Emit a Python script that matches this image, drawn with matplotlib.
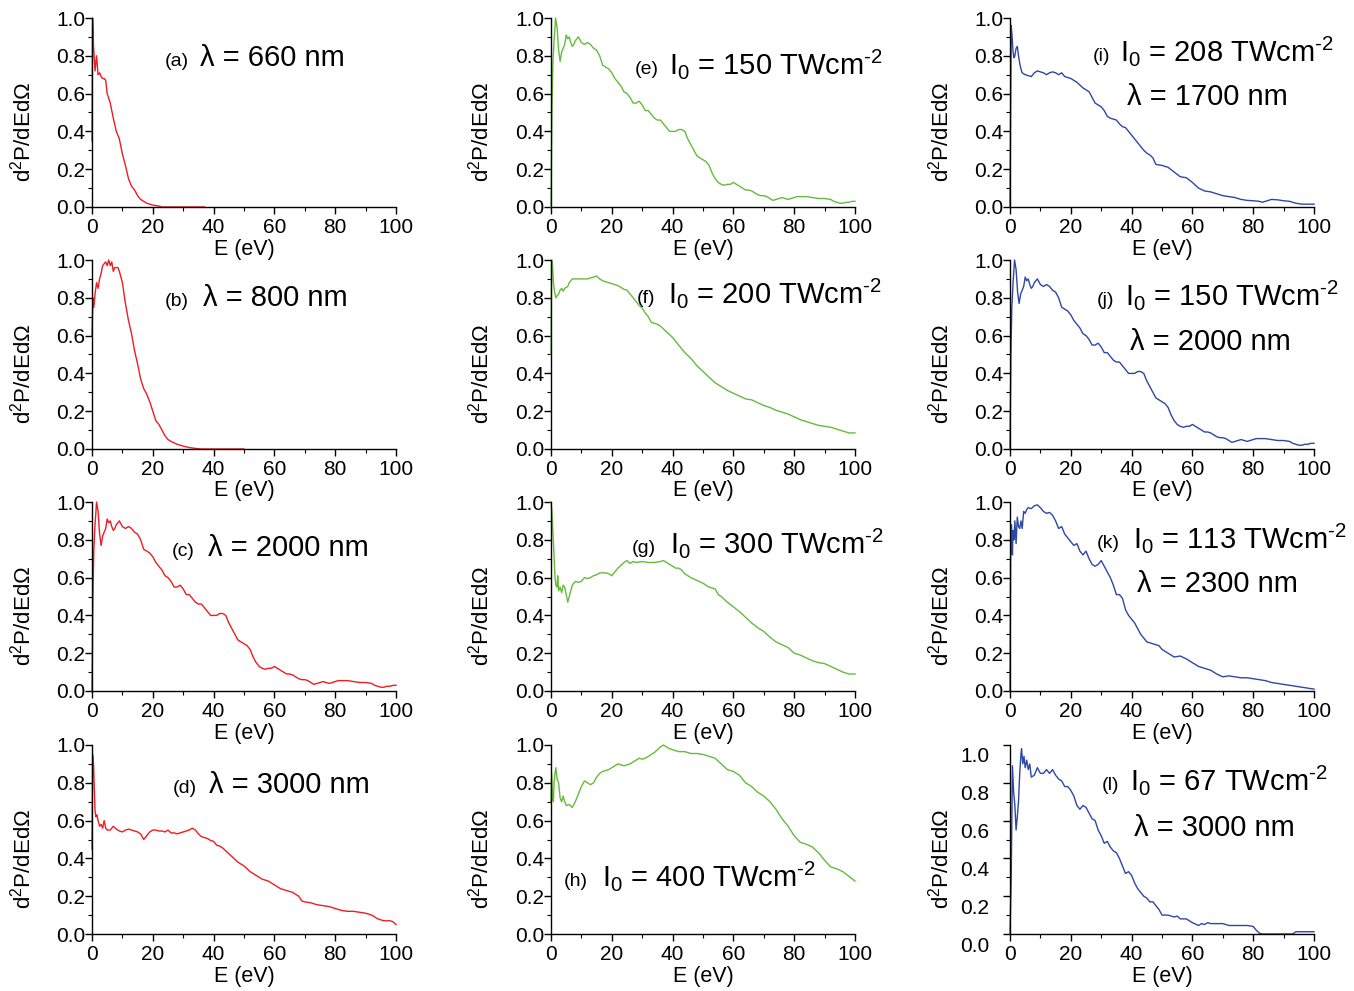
import numpy as np
import matplotlib
matplotlib.use('Agg')
import matplotlib.pyplot as plt
from matplotlib.ticker import FormatStrFormatter
from matplotlib.transforms import ScaledTranslation

plt.rcParams['font.family'] = ['Liberation Sans', 'DejaVu Sans']
plt.rcParams['mathtext.fontset'] = 'custom'
plt.rcParams['mathtext.rm'] = 'Liberation Sans'
plt.rcParams['mathtext.it'] = 'Liberation Sans:italic'
plt.rcParams['mathtext.default'] = 'regular'

# ---- data (E in eV, normalised d2P/dEdOmega) ----
energy_a = [0, 0.2, 0.5, 1, 1.5, 2, 2.5, 3, 3.5, 4, 4.5, 5, 6, 7, 8, 9, 10, 11, 12,
            13, 14, 15, 16, 17, 18, 19, 20, 22, 23, 37]
signal_a = [0.35, 1.0, 0.85, 0.72, 0.8, 0.7, 0.71, 0.69, 0.68, 0.68, 0.67, 0.6, 0.55,
            0.47, 0.4, 0.36, 0.28, 0.22, 0.15, 0.11, 0.09, 0.06, 0.04, 0.03, 0.02,
            0.015, 0.01, 0.005, 0.0, 0.0]

energy_b = [0, 0.3, 0.6, 1, 1.5, 2, 2.5, 3, 3.5, 4, 4.5, 5, 5.5, 6, 6.5, 7, 7.5, 8,
            8.5, 9, 10, 11, 12, 13, 14, 15, 16, 17, 18, 19, 20, 21, 22, 23, 24, 25,
            26, 28, 30, 32, 34, 36, 50]
signal_b = [0.6, 0.8, 0.75, 0.82, 0.88, 0.85, 0.9, 0.93, 0.97, 0.98, 0.99, 0.97, 1.0,
            0.97, 0.99, 0.94, 0.96, 0.96, 0.96, 0.94, 0.88, 0.77, 0.68, 0.61, 0.52,
            0.45, 0.37, 0.32, 0.29, 0.25, 0.2, 0.15, 0.13, 0.1, 0.07, 0.05, 0.04,
            0.025, 0.015, 0.008, 0.003, 0.0, 0.0]

# 2000 nm, 150 TWcm-2 (same spectrum in panels c, e and j)
energy_2000 = [0, 0.3, 0.6, 1, 1.5, 2, 2.5, 3, 3.5, 4, 4.5, 5, 5.5, 6, 6.5, 7, 7.5, 8,
               9, 10, 11, 12, 13, 14, 15, 16, 17, 18, 19, 20, 21, 22, 23, 24, 25, 26,
               27, 28, 29, 30, 31, 32, 33, 34, 35, 36, 37, 38, 39, 40, 41, 42, 43, 44,
               45, 46, 47, 48, 49, 50, 51, 52, 53, 54, 55, 56, 57, 58, 59, 60, 61, 62,
               63, 64, 65, 66, 67, 68, 69, 70, 71, 72, 73, 74, 75, 76, 77, 78, 79, 80,
               81, 82, 84, 86, 88, 90, 92, 93, 94, 95, 96, 97, 98, 99, 100]
signal_2000 = [0.0, 0.5, 0.75, 0.88, 1.0, 0.95, 0.83, 0.77, 0.82, 0.84, 0.86, 0.91,
               0.89, 0.9, 0.87, 0.85, 0.86, 0.88, 0.9, 0.87, 0.86, 0.87, 0.86, 0.84,
               0.83, 0.8, 0.75, 0.74, 0.73, 0.71, 0.68, 0.66, 0.64, 0.61, 0.6, 0.58,
               0.55, 0.55, 0.56, 0.54, 0.51, 0.51, 0.49, 0.47, 0.46, 0.46, 0.44, 0.42,
               0.4, 0.4, 0.4, 0.41, 0.41, 0.4, 0.36, 0.33, 0.3, 0.27, 0.26, 0.25, 0.24,
               0.22, 0.18, 0.15, 0.13, 0.12, 0.115, 0.12, 0.12, 0.13, 0.12, 0.11, 0.1,
               0.09, 0.09, 0.085, 0.075, 0.065, 0.06, 0.06, 0.055, 0.045, 0.035, 0.04,
               0.045, 0.05, 0.045, 0.04, 0.045, 0.05, 0.055, 0.055, 0.055, 0.05,
               0.045, 0.045, 0.04, 0.03, 0.025, 0.02, 0.02, 0.025, 0.025, 0.03, 0.03]

energy_d = [0, 0.2, 0.5, 0.8, 1, 1.3, 1.6, 2, 2.5, 3, 3.5, 4, 4.5, 5, 6, 7, 8, 9, 10,
            11, 12, 13, 14, 15, 16, 17, 18, 19, 20, 21, 22, 23, 24, 25, 26, 27, 28,
            29, 30, 31, 32, 33, 34, 35, 36, 37, 38, 39, 40, 41, 42, 43, 44, 45, 46,
            47, 48, 50, 52, 54, 56, 58, 60, 62, 64, 66, 68, 69, 70, 72, 74, 76, 78,
            80, 82, 84, 86, 88, 90, 92, 94, 96, 98, 99, 100]
signal_d = [0.45, 0.95, 0.9, 0.75, 0.65, 0.62, 0.63, 0.6, 0.57, 0.58, 0.56, 0.6, 0.56,
            0.55, 0.55, 0.57, 0.555, 0.545, 0.54, 0.55, 0.555, 0.55, 0.545, 0.54,
            0.53, 0.5, 0.52, 0.54, 0.55, 0.55, 0.545, 0.545, 0.54, 0.55, 0.535,
            0.535, 0.53, 0.535, 0.54, 0.545, 0.55, 0.56, 0.55, 0.53, 0.515, 0.51,
            0.505, 0.495, 0.49, 0.47, 0.465, 0.455, 0.44, 0.425, 0.41, 0.395, 0.38,
            0.36, 0.33, 0.31, 0.29, 0.28, 0.26, 0.24, 0.23, 0.22, 0.2, 0.175, 0.17,
            0.165, 0.155, 0.15, 0.145, 0.135, 0.125, 0.12, 0.12, 0.115, 0.11, 0.1,
            0.08, 0.07, 0.07, 0.065, 0.05]

energy_f = [0, 0.2, 0.5, 0.8, 1.2, 1.6, 2, 2.5, 3, 3.5, 4, 4.5, 5, 5.5, 6, 7, 8, 9, 10,
            11, 12, 13, 14, 15, 16, 17, 18, 19, 20, 21, 22, 23, 24, 25, 26, 27, 28,
            29, 30, 31, 32, 33, 34, 35, 36, 38, 40, 42, 44, 46, 48, 50, 52, 54, 56,
            58, 60, 62, 64, 66, 68, 70, 72, 74, 76, 78, 80, 82, 84, 86, 88, 90, 92,
            94, 96, 98, 100]
signal_f = [0.5, 1.0, 0.97, 0.88, 0.83, 0.8, 0.81, 0.82, 0.84, 0.85, 0.835, 0.85,
            0.855, 0.86, 0.88, 0.9, 0.9, 0.9, 0.9, 0.9, 0.9, 0.905, 0.91, 0.915, 0.9,
            0.89, 0.885, 0.88, 0.875, 0.87, 0.865, 0.855, 0.845, 0.84, 0.82, 0.8,
            0.78, 0.76, 0.745, 0.72, 0.7, 0.67, 0.665, 0.66, 0.65, 0.62, 0.59, 0.55,
            0.51, 0.48, 0.44, 0.41, 0.38, 0.35, 0.33, 0.31, 0.295, 0.28, 0.265, 0.26,
            0.245, 0.23, 0.22, 0.205, 0.195, 0.185, 0.17, 0.155, 0.145, 0.135, 0.125,
            0.12, 0.115, 0.105, 0.095, 0.085, 0.085]

energy_g = [0, 0.3, 0.6, 1, 1.3, 1.6, 2, 2.2, 2.5, 3, 3.5, 4, 4.5, 5, 5.5, 6, 7, 8, 9,
            10, 11, 12, 13, 14, 15, 16, 17, 18, 19, 20, 21, 22, 23, 24, 25, 26, 27,
            28, 30, 32, 34, 36, 37, 38, 39, 40, 41, 42, 43, 44, 46, 48, 50, 52, 54,
            55, 56, 58, 60, 62, 64, 66, 68, 70, 72, 74, 76, 78, 80, 82, 84, 86, 88,
            90, 92, 94, 96, 98, 100]
signal_g = [1.0, 0.95, 0.85, 0.72, 0.6, 0.56, 0.55, 0.61, 0.53, 0.55, 0.52, 0.56,
            0.55, 0.51, 0.47, 0.5, 0.56, 0.58, 0.575, 0.58, 0.6, 0.595, 0.6, 0.61,
            0.615, 0.625, 0.625, 0.625, 0.62, 0.61, 0.63, 0.65, 0.665, 0.68, 0.69,
            0.675, 0.685, 0.68, 0.685, 0.68, 0.68, 0.685, 0.69, 0.68, 0.67, 0.66,
            0.65, 0.65, 0.64, 0.62, 0.6, 0.585, 0.57, 0.55, 0.54, 0.51, 0.5, 0.47,
            0.445, 0.42, 0.39, 0.36, 0.335, 0.315, 0.285, 0.26, 0.245, 0.23, 0.2,
            0.19, 0.175, 0.16, 0.15, 0.145, 0.13, 0.115, 0.1, 0.09, 0.09]

energy_h = [0, 0.2, 0.5, 0.8, 1, 1.3, 1.6, 2, 2.5, 3, 3.5, 4, 4.5, 5, 6, 7, 8, 9, 10,
            11, 12, 13, 14, 15, 16, 17, 18, 19, 20, 21, 22, 23, 24, 25, 26, 27, 28,
            29, 30, 31, 32, 33, 34, 35, 36, 37, 38, 39, 40, 42, 44, 46, 48, 50, 52,
            54, 56, 58, 60, 62, 64, 66, 68, 70, 72, 74, 76, 78, 80, 82, 84, 86, 88,
            90, 92, 94, 96, 98, 100]
signal_h = [0.7, 0.85, 0.72, 0.7, 0.8, 0.85, 0.88, 0.82, 0.8, 0.72, 0.7, 0.73, 0.7,
            0.68, 0.685, 0.67, 0.7, 0.74, 0.78, 0.81, 0.8, 0.79, 0.8, 0.83, 0.85,
            0.86, 0.865, 0.87, 0.88, 0.89, 0.9, 0.895, 0.89, 0.895, 0.9, 0.91, 0.92,
            0.93, 0.925, 0.93, 0.94, 0.95, 0.96, 0.975, 0.99, 1.0, 0.99, 0.98, 0.975,
            0.965, 0.965, 0.955, 0.955, 0.95, 0.94, 0.93, 0.9, 0.87, 0.86, 0.84, 0.8,
            0.78, 0.75, 0.73, 0.7, 0.66, 0.61, 0.57, 0.52, 0.485, 0.475, 0.46, 0.43,
            0.39, 0.355, 0.345, 0.33, 0.305, 0.28]

energy_i = [0, 0.2, 0.4, 0.7, 1, 1.3, 1.6, 2, 2.4, 2.8, 3.2, 3.6, 4, 5, 6, 7, 8, 9,
            10, 11, 12, 13, 14, 15, 16, 17, 18, 19, 20, 21, 22, 23, 24, 25, 26, 27,
            28, 29, 30, 31, 32, 33, 34, 35, 36, 37, 38, 39, 40, 41, 42, 43, 44, 45,
            46, 47, 48, 50, 52, 54, 56, 58, 60, 62, 64, 66, 68, 70, 72, 74, 76, 78,
            80, 82, 83, 84, 86, 88, 90, 92, 94, 96, 98, 100]
signal_i = [0.0, 0.5, 0.96, 0.9, 0.82, 0.79, 0.8, 0.84, 0.85, 0.8, 0.76, 0.73, 0.71,
            0.7, 0.695, 0.69, 0.71, 0.72, 0.715, 0.71, 0.7, 0.71, 0.715, 0.71, 0.7,
            0.71, 0.69, 0.685, 0.68, 0.67, 0.66, 0.645, 0.63, 0.62, 0.61, 0.58, 0.55,
            0.54, 0.53, 0.51, 0.48, 0.47, 0.465, 0.46, 0.44, 0.425, 0.42, 0.4, 0.38,
            0.36, 0.34, 0.32, 0.3, 0.285, 0.275, 0.26, 0.225, 0.22, 0.21, 0.185,
            0.16, 0.155, 0.13, 0.1, 0.085, 0.08, 0.07, 0.06, 0.055, 0.05, 0.04,
            0.035, 0.033, 0.03, 0.025, 0.03, 0.04, 0.038, 0.033, 0.03, 0.02, 0.015,
            0.015, 0.015]

energy_k = [0, 0.2, 0.5, 0.8, 1, 1.3, 1.6, 2, 2.4, 2.8, 3.2, 3.6, 4, 4.5, 5, 5.5, 6,
            7, 8, 9, 10, 11, 12, 13, 14, 15, 16, 17, 18, 19, 20, 21, 22, 23, 24, 25,
            26, 27, 28, 29, 30, 31, 32, 33, 34, 35, 36, 37, 38, 39, 40, 41, 42, 43,
            44, 45, 46, 47, 48, 49, 50, 52, 54, 56, 58, 60, 62, 64, 66, 68, 70, 72,
            74, 76, 78, 80, 82, 84, 86, 88, 90, 92, 94, 96, 98, 100]
signal_k = [0.0, 0.7, 0.88, 0.72, 0.85, 0.8, 0.9, 0.78, 0.92, 0.87, 0.86, 0.9, 0.86,
            0.95, 0.94, 0.96, 0.97, 0.965, 0.98, 0.985, 0.97, 0.95, 0.94, 0.945, 0.93,
            0.9, 0.86, 0.87, 0.83, 0.81, 0.79, 0.77, 0.78, 0.74, 0.72, 0.74, 0.7,
            0.67, 0.66, 0.67, 0.69, 0.66, 0.63, 0.6, 0.56, 0.51, 0.51, 0.49, 0.43,
            0.4, 0.38, 0.36, 0.33, 0.3, 0.28, 0.26, 0.255, 0.25, 0.245, 0.24, 0.22,
            0.2, 0.18, 0.185, 0.17, 0.15, 0.13, 0.12, 0.11, 0.09, 0.075, 0.08, 0.075,
            0.07, 0.07, 0.065, 0.06, 0.055, 0.045, 0.04, 0.035, 0.03, 0.025, 0.02,
            0.015, 0.01]

energy_l = [0, 0.4, 0.8, 1.2, 1.6, 2, 2.4, 2.8, 3.2, 3.6, 3.8, 4.2, 4.6, 5, 5.5, 6,
            6.5, 7, 8, 9, 10, 11, 12, 13, 14, 15, 16, 17, 18, 19, 20, 21, 22, 23, 24,
            25, 26, 27, 28, 29, 30, 31, 32, 33, 34, 35, 36, 37, 38, 39, 40, 41, 42,
            43, 44, 45, 46, 47, 48, 49, 50, 52, 54, 55, 56, 58, 60, 62, 63, 64, 65,
            66, 68, 70, 72, 74, 76, 78, 80, 81, 82, 83, 90, 93, 94, 100]
signal_l = [0.0, 0.3, 0.89, 0.75, 0.68, 0.55, 0.62, 0.7, 0.85, 0.95, 0.98, 0.9, 0.94,
            0.88, 0.92, 0.87, 0.9, 0.83, 0.84, 0.88, 0.85, 0.85, 0.87, 0.85, 0.87,
            0.84, 0.82, 0.81, 0.78, 0.78, 0.76, 0.73, 0.68, 0.66, 0.68, 0.67, 0.64,
            0.61, 0.6, 0.55, 0.52, 0.48, 0.49, 0.46, 0.44, 0.43, 0.4, 0.36, 0.32,
            0.33, 0.31, 0.27, 0.24, 0.22, 0.2, 0.19, 0.17, 0.17, 0.15, 0.13, 0.1,
            0.1, 0.09, 0.095, 0.08, 0.08, 0.06, 0.045, 0.055, 0.05, 0.06, 0.055,
            0.055, 0.055, 0.045, 0.045, 0.045, 0.045, 0.04, 0.02, 0.005, 0.0, 0.0,
            0.0, 0.012, 0.012]

# ---- layout (pixels of the 1354x991 reference) ----
W, H = 1354, 991
COL_LEFT = [92, 551, 1010]
ROW_TOP = [18, 260, 502, 745]
AX_W, AX_H = 304, 189

RED = '#ee1c24'
GREEN = '#66bb3a'
BLUE = '#2d48a4'


def intensity(value):
    return r'I$_0$ = ' + value + r' TWcm$^{\text{-2}}$'


# (col, row, E, signal, colour, tag, tag pos, [(text, pos)])
panels = [
    (0, 0, energy_a, signal_a, RED, '(a)', (24.0, 0.746), [(u'λ = 660 nm', (35.5, 0.746))]),
    (0, 1, energy_b, signal_b, RED, '(b)', (24.0, 0.757), [(u'λ = 800 nm', (36.5, 0.757))]),
    (0, 2, energy_2000, signal_2000, RED, '(c)', (26.3, 0.714), [(u'λ = 2000 nm', (38.2, 0.714))]),
    (0, 3, energy_d, signal_d, RED, '(d)', (26.6, 0.746), [(u'λ = 3000 nm', (38.5, 0.746))]),
    (1, 0, energy_2000, signal_2000, GREEN, '(e)', (27.6, 0.704),
     [(intensity('150'), (38.8, 0.704))]),
    (1, 1, energy_f, signal_f, GREEN, '(f)', (28.3, 0.772),
     [(intensity('200'), (38.5, 0.772))]),
    (1, 2, energy_g, signal_g, GREEN, '(g)', (26.6, 0.730),
     [(intensity('300'), (39.1, 0.730))]),
    (1, 3, energy_h, signal_h, GREEN, '(h)', (4.3, 0.254),
     [(intensity('400'), (16.8, 0.254))]),
    (2, 0, energy_i, signal_i, BLUE, '(i)', (27.3, 0.772),
     [(intensity('208'), (36.2, 0.772)), (u'λ = 1700 nm', (38.5, 0.540))]),
    (2, 1, energy_2000, signal_2000, BLUE, '(j)', (28.6, 0.762),
     [(intensity('150'), (37.8, 0.762)), (u'λ = 2000 nm', (39.5, 0.524))]),
    (2, 2, energy_k, signal_k, BLUE, '(k)', (28.6, 0.757),
     [(intensity('113'), (40.5, 0.757)), (u'λ = 2300 nm', (41.8, 0.524))]),
    (2, 3, energy_l, signal_l, BLUE, '(l)', (30.3, 0.761),
     [(intensity('67'), (39.5, 0.761)), (u'λ = 3000 nm', (40.8, 0.521))]),
]

fig = plt.figure(figsize=(W / 100, H / 100), dpi=100)

for col, row, E, P, color, tag, tag_pos, texts in panels:
    left, top = COL_LEFT[col], ROW_TOP[row]
    ax = fig.add_axes([left / W, 1 - (top + AX_H) / H, AX_W / W, AX_H / H])
    ax.plot(E, P, color=color, lw=1.0, clip_on=False)

    ax.set_xlim(0, 100)
    ax.set_ylim(0, 1)
    ax.spines[['top', 'right']].set_visible(False)
    for s in ('left', 'bottom'):
        ax.spines[s].set_linewidth(1.0)
    ax.set_xticks(np.arange(0, 101, 20))
    ax.set_xticks(np.arange(10, 100, 20), minor=True)
    ax.set_yticks(np.arange(0, 1.01, 0.2))
    ax.set_yticks(np.arange(0.1, 1.0, 0.2), minor=True)
    ax.yaxis.set_major_formatter(FormatStrFormatter('%.1f'))
    ax.tick_params(which='major', direction='out', length=5, width=1, labelsize=15)
    ax.tick_params(which='minor', direction='out', length=3, width=0.8)
    ax.tick_params(axis='x', pad=3)
    ax.tick_params(axis='y', pad=0)

    ax.set_xlabel('E (eV)', fontsize=15.5, labelpad=1)
    ax.set_ylabel(r'd$^2$P/dEdΩ', fontsize=16)
    ax.yaxis.set_label_coords(-57 / AX_W, 0.4)

    if tag == '(l)':
        # this panel's y tick labels sit lower and further left in the original
        shift = ScaledTranslation(-0.14, -0.10, fig.dpi_scale_trans)
        for lab in ax.get_yticklabels():
            lab.set_transform(lab.get_transform() + shift)

    ax.text(tag_pos[0], tag_pos[1], tag, fontsize=14, ha='left', va='baseline')
    for txt, pos in texts:
        ax.text(pos[0], pos[1], txt, fontsize=21, ha='left', va='baseline')

fig.savefig('out.png', dpi=100)
